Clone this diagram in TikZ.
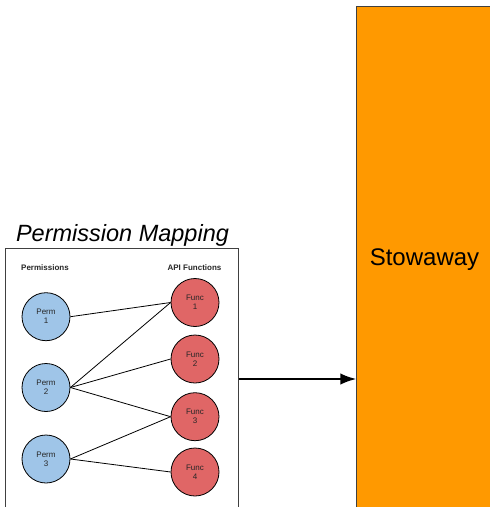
\documentclass[tikz,border=0pt]{standalone}
\usepackage{fontspec}
\setmainfont{Liberation Sans}
\usetikzlibrary{arrows.meta}
\definecolor{permblue}{HTML}{9FC5E8}
\definecolor{funcred}{HTML}{E06666}
\definecolor{stoworange}{HTML}{FF9900}

\begin{document}
\begin{tikzpicture}[x=1pt,y=-1pt,
    perm/.style={circle, draw=black, line width=0.8pt, fill=permblue, minimum size=48pt,
        inner sep=0pt, align=center, font=\fontsize{8}{9}\selectfont, text=black!85},
    func/.style={perm, fill=funcred},
    heading/.style={font=\fontsize{8}{9}\selectfont\bfseries, text=black!85, anchor=base},
    map/.style={-, line width=0.8pt}]
    \useasboundingbox (0,0) rectangle (490,507);
    \clip (0,0) rectangle (490,507);

    \node[anchor=base, font=\fontsize{23.5}{28}\selectfont\itshape] (title) at (122.5,241.7) {Permission Mapping};
    \node[draw=black!75, line width=0.9pt, minimum width=233pt, minimum height=262pt, inner sep=0pt] (mapbox) at (121.7,379) {};

    \node[heading] (permhead) at (45,270.5) {Permissions};
    \node[heading] (funchead) at (194.5,270.5) {API Functions};

    \node[perm] (p1) at (46,316.7) {Perm\\1};
    \node[perm] (p2) at (46,387.5) {Perm\\2};
    \node[perm] (p3) at (46,459) {Perm\\3};

    \node[func] (f1) at (195,302.5) {Func\\1};
    \node[func] (f2) at (195,359) {Func\\2};
    \node[func] (f3) at (195,416.7) {Func\\3};
    \node[func] (f4) at (195,472) {Func\\4};

    \draw[map] (p1.east) -- (f1.west);
    \draw[map] (p2.east) -- (f1.west);
    \draw[map] (p2.east) -- (f2.west);
    \draw[map] (p2.east) -- (f3.west);
    \draw[map] (p3.east) -- (f3.west);
    \draw[map] (p3.east) -- (f4.west);

    \node[draw=black!75, line width=0.8pt, fill=stoworange, minimum width=143.3pt, minimum height=746pt, inner sep=0pt] (stowaway) at (428.35,379) {};
    \node[anchor=base, font=\fontsize{24}{29}\selectfont] (stowtext) at (424.5,265.5) {Stowaway};

    \draw[-{Latex[length=16pt,width=11.5pt]}, line width=2pt] (mapbox.east) -- (stowaway.west);
\end{tikzpicture}
\end{document}
